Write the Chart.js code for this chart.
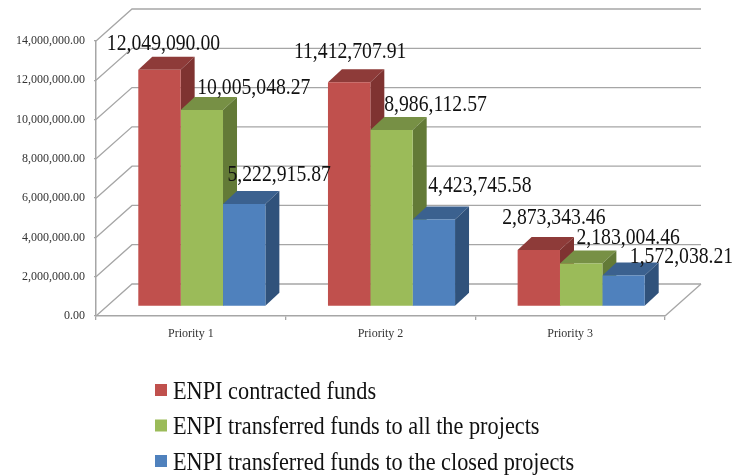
<!DOCTYPE html>
<html>
<head>
<meta charset="utf-8">
<title>ENPI funds by priority</title>
<script src="https://cdn.jsdelivr.net/npm/chart.js@4"></script>
<style>
  html, body { margin: 0; padding: 0; background: #fff; }
  #wrap { width: 734px; height: 475px; }
</style>
</head>
<body>
<div id="wrap"><canvas id="chart" width="734" height="475"></canvas></div>
<script>
// Values
const categories = ["Priority 1", "Priority 2", "Priority 3"];
const seriesNames = [
  "ENPI contracted funds",
  "ENPI transferred funds to all the projects",
  "ENPI transferred funds to the closed projects"
];
const contractedFunds = [12049090.00, 11412707.91, 2873343.46];
const transferredAll = [10005048.27, 8986112.57, 2183004.46];
const transferredClosed = [5222915.87, 4423745.58, 1572038.21];

const FONT = '"Liberation Serif", "Times New Roman", serif';
const GRID = "#a6a6a6";

// Colours of each series: front, top, side
const frontColors = ["#c0504d", "#9bbb59", "#4f81bd"];
const topColors = ["#8e3b39", "#779045", "#3b618f"];
const sideColors = ["#7f3331", "#637a37", "#30527b"];

// Oblique projection: back wall offset, bars plane offset, bar depth
const WALL_DX = 36, WALL_DY = -32;
const BAR_DX = 11, BAR_DY = -9.5;
const DEPTH_DX = 14, DEPTH_DY = -13;

// Labels sit off their bars in the original: [dx, dy] per series, per category
const labelOffsets = [
  [[4, -26], [1, -30], [15, -32]],
  [[52, -22], [44, -25], [47, -26]],
  [[35, -29], [46, -34], [58, -19]]
];

const fmt = v => v.toLocaleString("en-US", { minimumFractionDigits: 2, maximumFractionDigits: 2 });

// The original picture is stretched upwards, so big text is drawn a bit taller
function tallText(ctx, text, x, y, stretch) {
  ctx.save();
  ctx.translate(x, y);
  ctx.scale(1, stretch);
  ctx.fillText(text, 0, 0);
  ctx.restore();
}

const box3d = {
  id: "box3d",
  beforeDatasetsDraw(chart) {
    const { ctx, chartArea, scales } = chart;
    const { left, right, bottom } = chartArea;
    ctx.save();
    ctx.strokeStyle = GRID;
    ctx.lineWidth = 1.3;
    // left wall diagonals and back wall lines
    scales.y.ticks.forEach(t => {
      const y = scales.y.getPixelForValue(t.value);
      ctx.beginPath();
      ctx.moveTo(left, y);
      ctx.lineTo(left + WALL_DX, y + WALL_DY);
      ctx.lineTo(right + WALL_DX, y + WALL_DY);
      ctx.stroke();
    });
    // right edge of the floor
    ctx.beginPath();
    ctx.moveTo(right, bottom);
    ctx.lineTo(right + WALL_DX, bottom + WALL_DY);
    ctx.stroke();
    ctx.restore();
    // bars stand a little behind the front plane
    ctx.save();
    ctx.translate(BAR_DX, BAR_DY);
    // tops and sides first, left to right, the library paints the fronts over them
    chart.data.datasets.forEach((ds, i) => {
      chart.getDatasetMeta(i).data.forEach(bar => {
        const x1 = bar.x - bar.width / 2, x2 = bar.x + bar.width / 2;
        ctx.fillStyle = topColors[i];
        ctx.beginPath();
        ctx.moveTo(x1, bar.y);
        ctx.lineTo(x2, bar.y);
        ctx.lineTo(x2 + DEPTH_DX, bar.y + DEPTH_DY);
        ctx.lineTo(x1 + DEPTH_DX, bar.y + DEPTH_DY);
        ctx.closePath();
        ctx.fill();
        ctx.fillStyle = sideColors[i];
        ctx.beginPath();
        ctx.moveTo(x2, bar.y);
        ctx.lineTo(x2 + DEPTH_DX, bar.y + DEPTH_DY);
        ctx.lineTo(x2 + DEPTH_DX, bar.base + DEPTH_DY);
        ctx.lineTo(x2, bar.base);
        ctx.closePath();
        ctx.fill();
      });
    });
  },
  afterDatasetsDraw(chart) {
    const { ctx } = chart;
    ctx.restore();
    // value labels
    ctx.save();
    ctx.font = "19.7px " + FONT;
    ctx.fillStyle = "#111";
    ctx.textAlign = "center";
    ctx.textBaseline = "middle";
    chart.data.datasets.forEach((ds, i) => {
      chart.getDatasetMeta(i).data.forEach((bar, j) => {
        const off = labelOffsets[i][j];
        tallText(ctx, fmt(ds.data[j]), bar.x + BAR_DX + off[0], bar.y + BAR_DY + off[1], 1.16);
      });
    });
    ctx.restore();
  },
  afterDraw(chart) {
    // stacked legend under the plot
    const { ctx } = chart;
    ctx.save();
    ctx.font = "22.3px " + FONT;
    ctx.textBaseline = "middle";
    chart.data.datasets.forEach((ds, i) => {
      const y = 392 + i * 35.5;
      ctx.fillStyle = frontColors[i];
      ctx.fillRect(155, y - 8, 12, 12);
      ctx.fillStyle = "#111";
      tallText(ctx, ds.label, 173, y, 1.12);
    });
    ctx.restore();
  }
};

new Chart(document.getElementById("chart"), {
  type: "bar",
  data: {
    labels: categories,
    datasets: [
      { label: seriesNames[0], data: contractedFunds, backgroundColor: frontColors[0] },
      { label: seriesNames[1], data: transferredAll, backgroundColor: frontColors[1] },
      { label: seriesNames[2], data: transferredClosed, backgroundColor: frontColors[2] }
    ]
  },
  options: {
    responsive: false,
    animation: false,
    layout: { padding: { top: 41, right: 69, left: 0, bottom: 0 } },
    datasets: { bar: { barPercentage: 1, categoryPercentage: 0.67, borderWidth: 0, clip: false } },
    plugins: {
      legend: { display: false },
      tooltip: { enabled: false }
    },
    scales: {
      x: {
        afterFit(scale) { scale.height = 159; },
        grid: { drawOnChartArea: false, color: GRID, tickLength: 4, lineWidth: 1.3 },
        border: { color: GRID, width: 1.5 },
        ticks: {
          color: "#333",
          padding: 7,
          maxRotation: 0,
          font: { family: FONT, size: 12 }
        }
      },
      y: {
        min: 0,
        max: 14000000,
        afterFit(scale) { scale.width = 96; },
        grid: { drawOnChartArea: false, color: GRID, tickLength: 2, lineWidth: 1.3 },
        border: { color: GRID, width: 1.5 },
        ticks: {
          stepSize: 2000000,
          color: "#333",
          padding: 9,
          callback: v => fmt(v),
          font: { family: FONT, size: 12 }
        }
      }
    }
  },
  plugins: [box3d]
});
</script>
</body>
</html>
